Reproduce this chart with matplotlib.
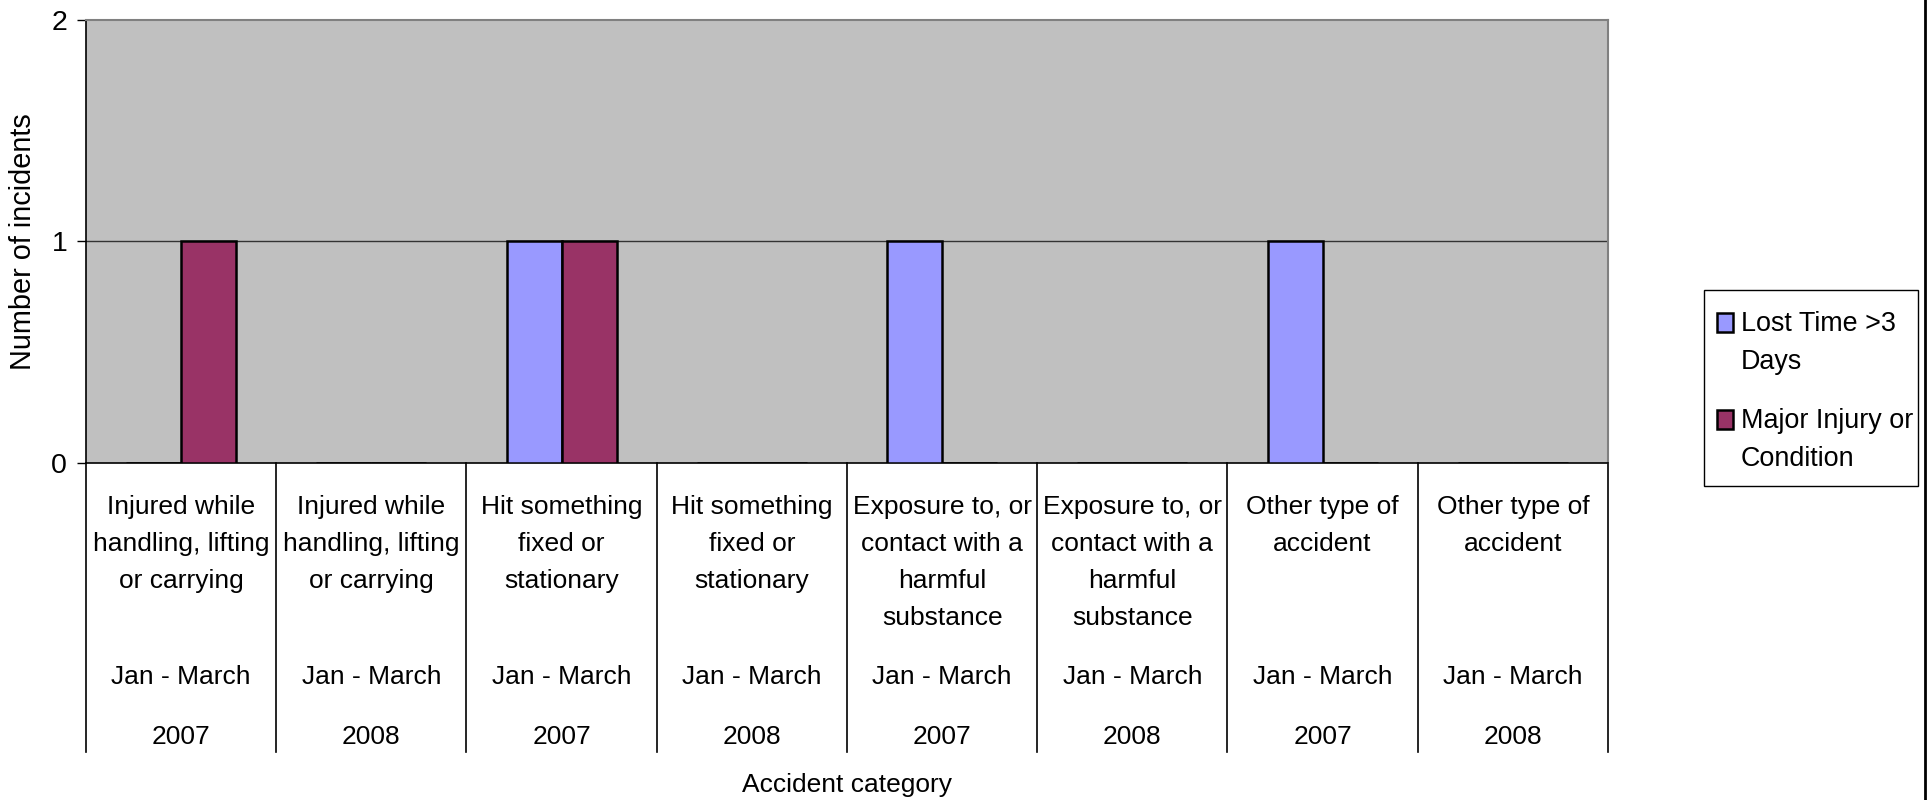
import numpy as np
import matplotlib
matplotlib.use("Agg")
import matplotlib.pyplot as plt
from matplotlib.patches import Rectangle
from matplotlib.lines import Line2D

plt.rcParams['font.family'] = ['Liberation Sans', 'DejaVu Sans']

# data
categories = [
    "Injured while\nhandling, lifting\nor carrying",
    "Injured while\nhandling, lifting\nor carrying",
    "Hit something\nfixed or\nstationary",
    "Hit something\nfixed or\nstationary",
    "Exposure to, or\ncontact with a\nharmful\nsubstance",
    "Exposure to, or\ncontact with a\nharmful\nsubstance",
    "Other type of\naccident",
    "Other type of\naccident",
]
periods = ["Jan - March"] * 8
years = ["2007", "2008", "2007", "2008", "2007", "2008", "2007", "2008"]
lost_time = [0, 0, 1, 0, 1, 0, 1, 0]
major_injury = [1, 0, 1, 0, 0, 0, 0, 0]
series_names = ["Lost Time >3\nDays", "Major Injury or\nCondition"]
series_colors = ["#9999FF", "#993366"]

W, H = 1930, 800
FS = 19
FS_AX = 20.5
FS_LEG = 19.4


def fig_xy(x, y):
    # pixel position -> figure fraction
    return x / W, 1 - y / H


fig = plt.figure(figsize=(W / 100, H / 100), dpi=100)
ax_l, ax_r, ax_t, ax_b = 86, 1608, 19.5, 463
ax = fig.add_axes([ax_l / W, 1 - ax_b / H, (ax_r - ax_l) / W, (ax_b - ax_t) / H])
ax.set_facecolor("#C0C0C0")

x = np.arange(len(categories))
bw = 0.289
ax.bar(x - bw / 2, lost_time, bw, color=series_colors[0], edgecolor="black", linewidth=1.8, zorder=3)
ax.bar(x + bw / 2, major_injury, bw, color=series_colors[1], edgecolor="black", linewidth=1.8, zorder=3)

ax.set_xlim(-0.5, len(categories) - 0.5)
ax.set_ylim(0, 2)
ax.set_yticks([0, 1, 2])
ax.tick_params(axis="y", labelsize=FS_AX, length=6.5, width=1, pad=7, direction="out")
ax.set_xticks([])
ax.axhline(1, color="#333333", linewidth=1, zorder=1)

for side in ["top", "right"]:
    ax.spines[side].set_color("#808080")
    ax.spines[side].set_linewidth(1.5)
for side in ["left", "bottom"]:
    ax.spines[side].set_color("black")
    ax.spines[side].set_linewidth(1.2)

ax.set_ylabel("Number of incidents", fontsize=20.8)
ax.yaxis.set_label_coords((37 - ax_l) / (ax_r - ax_l), 0.5)

# category table below the axis
ah = ax_b - ax_t
def ay(py):
    return (ax_b - py) / ah

tr = ax.get_xaxis_transform()
for b in np.arange(len(categories) + 1) - 0.5:
    ax.plot([b, b], [0, ay(752)], color="black", linewidth=1.2, transform=tr, clip_on=False)

for i in range(len(categories)):
    ax.text(x[i], ay(495), categories[i], transform=tr, ha="center", va="top",
            fontsize=FS, linespacing=1.69)
    ax.text(x[i], ay(677), periods[i], transform=tr, ha="center", va="center", fontsize=FS)
    ax.text(x[i], ay(737), years[i], transform=tr, ha="center", va="center", fontsize=FS)

ax.text(np.mean(x), ay(785), "Accident category", transform=tr, ha="center", va="center", fontsize=FS)

# legend box
lx0, ly0, lx1, ly1 = 1704, 290, 1918, 486
fig.add_artist(Rectangle(fig_xy(lx0, ly1), (lx1 - lx0) / W, (ly1 - ly0) / H,
                         transform=fig.transFigure, facecolor="white", edgecolor="black", linewidth=1))
for name, col, ty in zip(series_names, series_colors, [323, 420]):
    fig.add_artist(Rectangle(fig_xy(1717, ty + 9), 16 / W, 19 / H, transform=fig.transFigure,
                             facecolor=col, edgecolor="black", linewidth=1.8))
    tx, tyf = fig_xy(1741, ty - 12)
    fig.text(tx, tyf, name, ha="left", va="top", fontsize=FS_LEG, linespacing=1.58)

# chart area border at the right edge
fig.add_artist(Line2D([1925 / W, 1925 / W], [0, 1], transform=fig.transFigure, color="black", linewidth=2))

fig.savefig("out.png", dpi=100, facecolor="white")
